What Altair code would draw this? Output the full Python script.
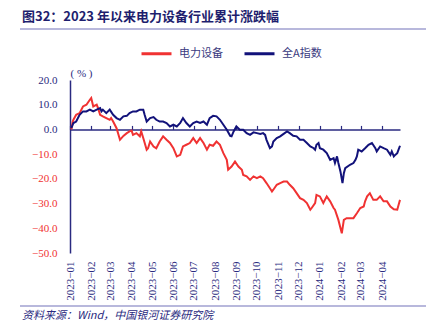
import altair as alt
import pandas as pd

# ---- data (days since 2023-01-01, cumulative change %) ----
red_days = [2, 4, 5, 9, 14, 19, 24, 29, 31, 34, 39, 41, 44, 48, 53, 58, 60, 63, 68, 73,
            78, 83, 87, 90, 92, 97, 102, 104, 107, 112, 114, 117, 122, 126, 131, 136, 141,
            146, 151, 156, 161, 165, 170, 175, 180, 185, 190, 195, 200,
            204, 209, 214, 219, 224, 229, 231, 236, 241, 246, 251, 253, 258, 263, 268, 273,
            278, 282, 287, 292, 295, 297, 302, 307, 312, 317, 321, 326, 331, 336, 341, 346,
            351, 353, 358, 360, 365, 370, 375, 380, 385, 387, 392, 397, 400, 404, 409, 414,
            419, 424, 429, 431, 434, 438, 443, 448, 453, 458, 463, 468, 473, 478, 480, 482]
red_vals = [0.0, 3.2, 3.9, 5.9, 6.6, 9.3, 10.0, 12.0, 12.7, 9.3, 10.0, 8.6, 5.9, 5.3, 4.6, 3.9, 4.6, 3.2, 0.5, -4.2,
            -2.6, -1.5, -0.8, -0.5, -2.2, -1.5, -2.8, -0.8, -3.5, -8.2, -7.6, -4.9, -6.9, -7.6, -4.9, -2.8, -4.2,
            -5.5, -7.6, -10.9, -10.3, -6.9, -6.2, -5.5, -3.5, -5.5, -3.5, -5.5, -8.2,
            -6.2, -6.6, -4.9, -6.2, -9.6, -12.3, -16.3, -15.0, -13.0, -15.0, -16.3, -18.4, -19.0, -20.4, -19.0, -19.7,
            -19.0, -19.7, -21.7, -23.8, -25.1, -24.4, -22.4, -21.7, -21.1, -21.1, -22.4, -23.8, -25.8, -27.8, -28.5, -29.8,
            -32.5, -31.8, -29.8, -26.5, -27.1, -29.8, -27.1, -29.1, -31.8, -32.5, -36.6, -42.0, -36.6, -35.9, -35.9, -35.9,
            -33.9, -31.8, -31.2, -29.1, -27.1, -25.8, -28.5, -28.5, -27.1, -29.1, -29.1, -31.2, -32.3, -32.5, -30.5, -28.5]

blue_days = [2, 5, 9, 14, 19, 24, 29, 34, 39, 44, 46, 48, 53, 58, 63, 68, 73, 78, 83, 87,
             92, 97, 102, 107, 109, 112, 117, 122, 126, 131, 136, 141, 146, 151, 156, 161, 165,
             170, 175, 180, 185, 190, 195, 200,
             204, 209, 214, 219, 224, 229, 234, 236, 239, 243, 248, 253, 258, 263, 268, 273,
             278, 282, 285, 287, 292, 295, 297, 302, 307, 312, 317, 321, 326, 331, 336, 341,
             346, 351, 356, 358, 360, 363, 365, 370, 375, 380, 385, 387, 390, 392, 395, 398,
             400, 402, 409, 414, 417, 419, 421, 426, 431, 436, 441, 446, 448, 453, 458, 463,
             468, 470, 473, 475, 478, 482]
blue_vals = [0.5, 2.6, 3.2, 5.9, 7.3, 7.3, 8.0, 7.3, 8.0, 8.6, 7.3, 8.0, 6.6, 8.0, 5.9, 4.6, 3.9, 5.3, 5.5, 6.6,
             7.3, 7.3, 8.0, 8.0, 5.9, 3.2, 4.6, 5.0, 3.9, 3.2, 3.2, 2.6, 1.2, 1.9, 1.2, 2.6, 4.6,
             2.6, 1.2, 2.6, 3.2, 2.6, 3.2, 1.9,
             4.6, 5.5, 5.3, 3.9, 1.9, -0.1, -2.6, -2.8, -0.8, 1.2, -0.1, -0.1, -1.5, -2.2, -1.2, -1.5,
             -1.8, -1.5, -2.2, -4.2, -7.6, -6.9, -4.9, -3.5, -2.8, -1.8, -0.8, -1.5, -2.6, -2.8, -4.2, -4.2,
             -5.5, -6.9, -7.6, -8.2, -6.2, -5.5, -7.6, -8.2, -9.6, -12.3, -11.6, -13.6, -10.9, -13.6, -17.0, -21.7,
             -17.7, -15.7, -14.3, -13.6, -12.3, -10.9, -8.2, -8.9, -7.6, -6.2, -5.5, -7.6, -8.9, -6.9, -7.6, -8.2,
             -10.3, -8.9, -10.9, -10.3, -9.6, -6.6]

series_names = ["电力设备", "全A指数"]
series_colors = ["#f03232", "#12127a"]
y_ticks_pos = [20, 10, 0]
y_ticks_neg = [-10, -20, -30, -40, -50]

title_text = "图32：2023 年以来电力设备行业累计涨跌幅"
source_text = "资料来源：Wind，中国银河证券研究院"

base = pd.Timestamp("2023-01-01")
df = pd.concat([
    pd.DataFrame({"date": base + pd.to_timedelta(red_days, unit="D"), "value": red_vals, "series": series_names[0]}),
    pd.DataFrame({"date": base + pd.to_timedelta(blue_days, unit="D"), "value": blue_vals, "series": series_names[1]}),
], ignore_index=True)

W, H = 330, 173
NAVY = "#2a2a80"
RED = "#f03232"
zero_px = H * 20 / 70

x_scale = alt.Scale(domain=[alt.DateTime(year=2023, month=1, date=1),
                            alt.DateTime(year=2024, month=4, date=27)], nice=False)
y_scale = alt.Scale(domain=[-50, 20], nice=False)

bottom_axis = alt.Axis(
    orient="bottom", domain=False, ticks=False, grid=False, title=None,
    tickCount={"interval": "month", "step": 1},
    labelExpr="timeFormat(datum.value, '%Y') + '−' + timeFormat(datum.value, '%m')",
    labelAngle=270, labelPadding=8, labelFont="Liberation Serif", labelFontSize=11,
    labelColor=NAVY, labelOverlap=False,
)
top_axis = alt.Axis(
    orient="top", offset=-zero_px, labels=False, grid=False, title=None,
    tickCount={"interval": "month", "step": 1},
    domainColor=NAVY, domainWidth=1.5, tickColor=NAVY, tickSize=4, tickWidth=1.2,
)
y_axis_pos = alt.Axis(
    orient="left", values=y_ticks_pos, format=".1f", grid=False, ticks=False,
    domainColor=NAVY, domainWidth=1.5,
    labelFont="Liberation Serif", labelFontSize=11, labelPadding=13, labelColor=NAVY,
    title="( % )", titleAngle=0, titleX=0, titleY=-7, titleAlign="left", titleBaseline="middle",
    titleFont="Liberation Serif", titleFontSize=11, titleFontWeight="normal", titleColor=NAVY,
)
y_axis_neg = alt.Axis(
    orient="left", values=y_ticks_neg, format=".1f", grid=False, ticks=False, domain=False,
    labelFont="Liberation Serif", labelFontSize=11, labelPadding=13, labelColor=RED,
    title=None,
)

lines = alt.Chart(df).mark_line(strokeWidth=2).encode(
    x=alt.X("date:T", scale=x_scale, axis=bottom_axis),
    y=alt.Y("value:Q", scale=y_scale, axis=y_axis_pos),
    color=alt.Color("series:N", sort=series_names,
                    scale=alt.Scale(domain=series_names, range=series_colors),
                    legend=alt.Legend(
                        title=None, orient="none", legendX=70, legendY=-43, direction="horizontal",
                        symbolType="stroke", symbolSize=900, symbolStrokeWidth=3,
                        labelFont="Noto Sans CJK SC", labelFontSize=11, labelColor="#3a3a80",
                        labelOffset=6, columnPadding=15)),
    order=alt.Order("date:T"),
)

zero_axis = alt.Chart(df).mark_line(opacity=0).encode(
    x=alt.X("date:T", scale=x_scale, axis=top_axis),
    y=alt.Y("value:Q", scale=y_scale, axis=y_axis_neg),
    detail="series:N",
)

rule_top = alt.Chart(pd.DataFrame({"k": [0]})).mark_rule(color="#a0a0d0", strokeWidth=1.5).encode(
    x=alt.value(-50), x2=alt.value(356), y=alt.value(-51))
rule_bot = alt.Chart(pd.DataFrame({"k": [0]})).mark_rule(color="#a0a0d0", strokeWidth=1.5).encode(
    x=alt.value(-50), x2=alt.value(356), y=alt.value(226))
source = alt.Chart(pd.DataFrame({"t": [source_text]})).mark_text(
    align="left", baseline="middle", font="Noto Sans CJK SC", fontSize=11,
    fontStyle="italic", color=NAVY).encode(text="t:N", x=alt.value(-48), y=alt.value(236))

chart = alt.layer(lines, zero_axis, rule_top, rule_bot, source).resolve_axis(
    x="independent", y="independent").properties(
    width=W, height=H,
    title=alt.TitleParams(title_text, anchor="start", frame="group", dx=-48, dy=0,
                          font="Noto Sans CJK SC", fontSize=13, fontWeight="bold", color="#1e1e6e"),
    autosize=alt.AutoSizeParams(type="none"),
    padding={"left": 70, "top": 80, "right": 31, "bottom": 78},
).configure_view(stroke=None)

chart.save("out.html", embed_options={"renderer": "svg", "actions": False})
